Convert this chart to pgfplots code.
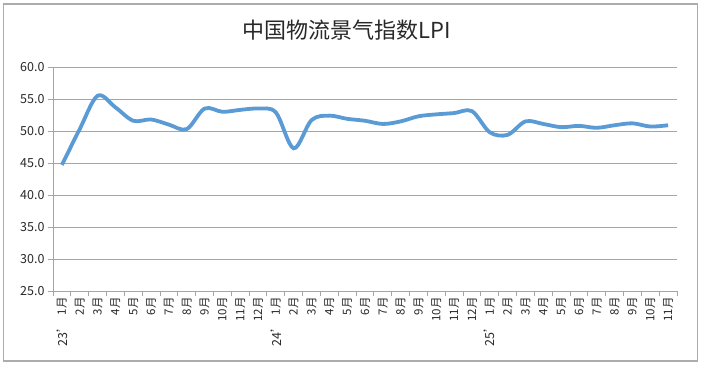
\documentclass[border=0pt]{standalone}
\usepackage{fontspec}
\setmainfont{Noto Sans CJK SC}
\usepackage{pgfplots}
\pgfplotsset{compat=1.18}
\definecolor{lineblue}{RGB}{91,155,213}
\definecolor{gridgray}{RGB}{165,165,165}
\definecolor{txt}{RGB}{40,40,40}
\begin{document}
\begin{tikzpicture}
\useasboundingbox (0bp,0bp) rectangle (701bp,366bp);
\draw[gray!65, line width=1.2bp] (3.5bp,5bp) rectangle (697.5bp,362bp);
\node[font=\fontsize{22bp}{25bp}\selectfont, text=txt] at (347bp,336bp) {中国物流景气指数LPI};
\begin{axis}[
  at={(53bp,75bp)}, anchor=south west, scale only axis,
  width=624bp, height=224bp,
  xmin=-0.5, xmax=34.5, ymin=25, ymax=60,
  axis x line*=bottom, axis y line*=left,
  axis line style={-, gridgray, line width=0.9bp},
  ytick={25,30,...,60},
  ymajorgrids, major grid style={gridgray, line width=0.9bp},
  tick align=outside,
  major tick length=5bp, minor tick length=5bp,
  tick style={gridgray, line width=0.9bp},
  every major x tick/.append style={draw=none},
  minor xtick={-0.5,0.5,...,34.5},
  /pgf/number format/assume math mode=true,
  yticklabel style={font=\fontsize{12.5bp}{14bp}\selectfont, text=txt, /pgf/number format/fixed, /pgf/number format/fixed zerofill, /pgf/number format/precision=1},
  xtick={0,1,...,34},
  xticklabels={1月,2月,3月,4月,5月,6月,7月,8月,9月,10月,11月,12月,1月,2月,3月,4月,5月,6月,7月,8月,9月,10月,11月,12月,1月,2月,3月,4月,5月,6月,7月,8月,9月,10月,11月},
  xticklabel style={rotate=90, anchor=east, font=\fontsize{11.5bp}{13bp}\selectfont, text=txt, inner sep=1bp},
  clip=false,
]
\addplot[lineblue, line width=3.8bp, smooth, tension=0.55] coordinates {
(0,44.7) (1,50.3) (2,55.5) (3,53.7) (4,51.6) (5,51.8) (6,51.0) (7,50.3) (8,53.5) (9,53.0) (10,53.3) (11,53.5)
(12,52.9) (13,47.3) (14,51.7) (15,52.4) (16,51.9) (17,51.6) (18,51.1) (19,51.5) (20,52.3) (21,52.6) (22,52.8) (23,53.1)
(24,49.8) (25,49.4) (26,51.5) (27,51.1) (28,50.6) (29,50.8) (30,50.5) (31,50.9) (32,51.2) (33,50.7) (34,50.9)
};
\node[rotate=90, anchor=east, font=\fontsize{12.5bp}{14bp}\selectfont, text=txt, inner sep=1bp] at ([yshift=-28bp]axis cs:0,25) {23'};
\node[rotate=90, anchor=east, font=\fontsize{12.5bp}{14bp}\selectfont, text=txt, inner sep=1bp] at ([yshift=-28bp]axis cs:12,25) {24'};
\node[rotate=90, anchor=east, font=\fontsize{12.5bp}{14bp}\selectfont, text=txt, inner sep=1bp] at ([yshift=-28bp]axis cs:24,25) {25'};
\end{axis}
\end{tikzpicture}
\end{document}
